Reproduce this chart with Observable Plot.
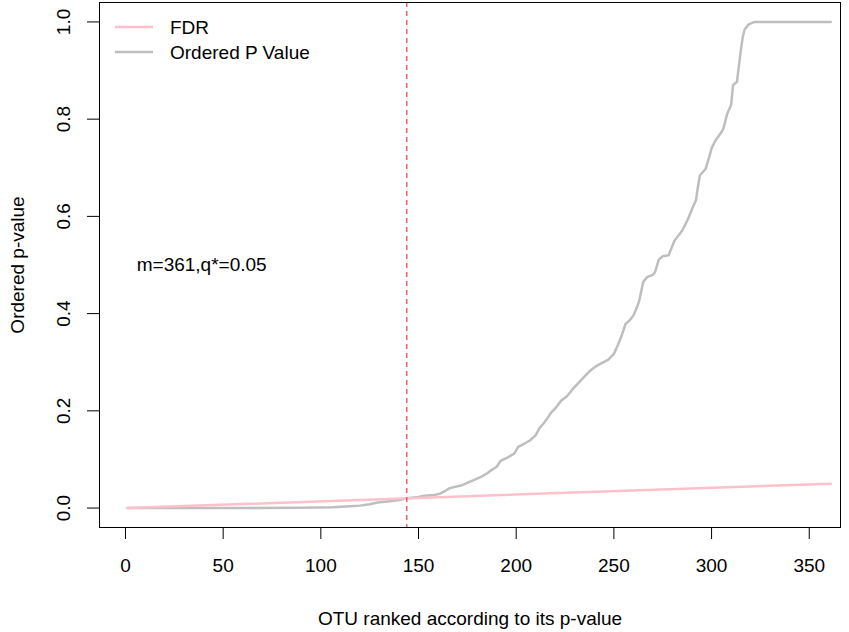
<!DOCTYPE html>
<html>
<head>
<meta charset="utf-8">
<script src="https://cdn.jsdelivr.net/npm/d3@7"></script>
<script src="https://cdn.jsdelivr.net/npm/@observablehq/plot@0.6"></script>
<style>
  html, body { margin: 0; padding: 0; background: #fff; }
  #wrap { position: relative; width: 849px; height: 632px; font-family: "Liberation Sans", Arial, sans-serif; }
  #legend { position: absolute; left: 0; top: 0; pointer-events: none; }
</style>
</head>
<body>
<div id="wrap"></div>
<script>
// ---- data ----
const rank = [1, 60, 90, 106, 115, 120, 125, 129, 135, 141, 144, 150, 153, 158, 161, 164, 166, 170, 172, 175,
  178, 182, 185, 187, 190, 192, 196, 199, 201, 204, 207, 210, 212, 214, 216, 218, 220, 223, 226, 229,
  233, 236, 238, 241, 243, 247, 250, 252, 254, 256, 258, 260, 262, 263, 265, 267, 270, 271, 273, 275,
  278, 281, 285, 288, 290, 292, 293, 294, 297, 299, 300, 302, 305, 306, 308, 310, 311, 313, 314, 315,
  316, 317, 319, 322, 361];
const pvalue = [0.0000, 0.0000, 0.0008, 0.0015, 0.0035, 0.0050, 0.0080, 0.0115, 0.0140, 0.0170, 0.0200, 0.0230, 0.0253, 0.0270, 0.0295, 0.0360, 0.0410, 0.0450, 0.0465, 0.0520,
  0.0570, 0.0640, 0.0710, 0.0770, 0.0850, 0.0970, 0.1050, 0.1120, 0.1260, 0.1320, 0.1390, 0.1500, 0.1650, 0.1740, 0.1850, 0.1970, 0.2050, 0.2210, 0.2300, 0.2450,
  0.2620, 0.2750, 0.2830, 0.2920, 0.2966, 0.3050, 0.3170, 0.3350, 0.3550, 0.3790, 0.3860, 0.3960, 0.4150, 0.4270, 0.4650, 0.4750, 0.4800, 0.4850, 0.5110, 0.5180,
  0.5200, 0.5500, 0.5710, 0.5950, 0.6150, 0.6330, 0.6600, 0.6840, 0.6980, 0.7250, 0.7400, 0.7560, 0.7730, 0.7800, 0.8110, 0.8290, 0.8700, 0.8770, 0.9100, 0.9420,
  0.9700, 0.9850, 0.9950, 1.0000, 1.0000];
const fdrRank = [1, 361];
const fdrValue = [0.000139, 0.05];
const cutoffRank = [144];
const xTicks = [0, 50, 100, 150, 200, 250, 300, 350];
const yTicks = [0, 0.2, 0.4, 0.6, 0.8, 1.0];
const yTickLabels = ["0.0", "0.2", "0.4", "0.6", "0.8", "1.0"];
const annotation = ["m=361,q*=0.05"];
const annotX = [39];
const annotY = [0.5];
const legendLabels = ["FDR", "Ordered P Value"];
const legendColors = ["#FFC0CB", "#BEBEBE"];
const xTitle = "OTU ranked according to its p-value";
const yTitle = "Ordered p-value";

// ---- build tables ----
const pTable = rank.map((r, i) => ({rank: r, p: pvalue[i]}));
const fdrTable = fdrRank.map((r, i) => ({rank: r, p: fdrValue[i]}));
const annTable = annotation.map((t, i) => ({x: annotX[i], y: annotY[i], t}));
const yLab = yTicks.map((v, i) => ({v, t: yTickLabels[i]}));

const chart = Plot.plot({
  width: 849,
  height: 632,
  marginLeft: 99,
  marginRight: 9,
  marginTop: 2,
  marginBottom: 105,
  style: {fontFamily: "'Liberation Sans', Arial, sans-serif", fontSize: "19px", background: "white", color: "black"},
  x: {domain: [-13.3, 366]},
  y: {domain: [-0.04, 1.04]},
  marks: [
    Plot.axisX(xTicks, {tickSize: 12, tickFormat: () => "", label: null, strokeWidth: 1}),
    Plot.axisY(yTicks, {tickSize: 12, tickFormat: () => "", label: null, strokeWidth: 1}),
    Plot.text(xTicks, {x: d => d, text: d => String(d), frameAnchor: "bottom", lineAnchor: "middle", dy: 38, fontSize: 19}),
    Plot.text(yLab, {y: "v", text: "t", frameAnchor: "left", dx: -36, rotate: -90, textAnchor: "middle", lineAnchor: "middle", fontSize: 19}),
    Plot.text([xTitle], {text: d => d, frameAnchor: "bottom", lineAnchor: "middle", dy: 91, fontSize: 19}),
    Plot.text([yTitle], {text: d => d, frameAnchor: "left", dx: -82, rotate: -90, textAnchor: "middle", lineAnchor: "middle", fontSize: 19}),
    Plot.line(pTable, {x: "rank", y: "p", stroke: legendColors[1], strokeWidth: 2.5, curve: "linear"}),
    Plot.line(fdrTable, {x: "rank", y: "p", stroke: legendColors[0], strokeWidth: 2.5}),
    Plot.ruleX(cutoffRank, {stroke: "#E0404A", strokeWidth: 1.2, strokeDasharray: "5,4"}),
    Plot.text(annTable, {x: "x", y: "y", text: "t", textAnchor: "middle", lineAnchor: "middle", fontSize: 19}),
    Plot.frame({stroke: "black", strokeWidth: 1})
  ]
});

const wrap = document.getElementById("wrap");
wrap.appendChild(chart);

// ---- legend (top-left, no box) ----
const ns = "http://www.w3.org/2000/svg";
const leg = document.createElementNS(ns, "svg");
leg.setAttribute("id", "legend");
leg.setAttribute("width", "849");
leg.setAttribute("height", "80");
legendLabels.forEach((lab, i) => {
  const cy = 27 + i * 25;
  const ln = document.createElementNS(ns, "line");
  ln.setAttribute("x1", 115); ln.setAttribute("x2", 153);
  ln.setAttribute("y1", cy); ln.setAttribute("y2", cy);
  ln.setAttribute("stroke", legendColors[i]);
  ln.setAttribute("stroke-width", 2.5);
  leg.appendChild(ln);
  const tx = document.createElementNS(ns, "text");
  tx.setAttribute("x", 170);
  tx.setAttribute("y", cy);
  tx.setAttribute("dy", "0.35em");
  tx.setAttribute("font-size", "19px");
  tx.setAttribute("font-family", "'Liberation Sans', Arial, sans-serif");
  tx.textContent = lab;
  leg.appendChild(tx);
});
wrap.appendChild(leg);
</script>
</body>
</html>
